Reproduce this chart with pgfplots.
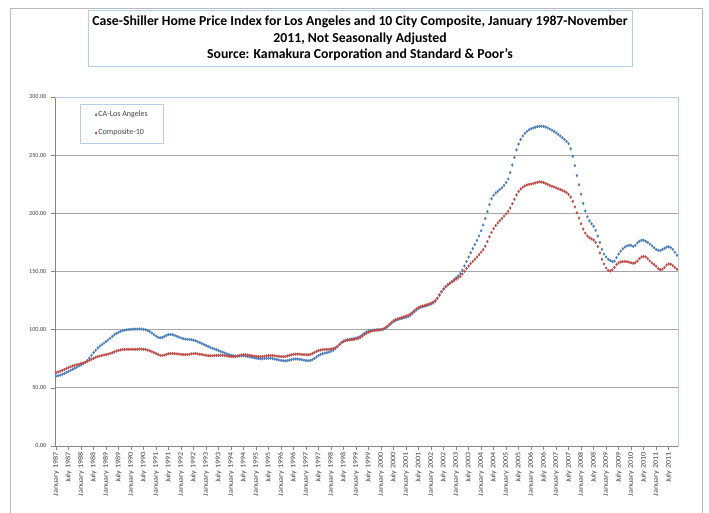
\documentclass[border=0pt]{standalone}
\usepackage{pgfplots}
\pgfplotsset{compat=1.18}
\usepackage{pgfplotstable}
\usepackage{graphicx}
\usepackage{fontspec}
\setmainfont{Carlito}

\definecolor{laBlue}{RGB}{74,126,187}
\definecolor{cRed}{RGB}{190,75,72}
\definecolor{boxcol}{RGB}{185,205,229}
\definecolor{gridgray}{RGB}{165,165,165}
\definecolor{axgray}{RGB}{134,134,134}
\definecolor{txt}{RGB}{64,64,64}

\newcommand{\xl}[1]{\scalebox{1.15}[1]{#1}}

% monthly index, Jan 1987 .. Nov 2011 (one line per year)
\pgfplotstableread[row sep=\\]{
la c10 \\
60.0 63.0 \\ 60.4 63.6 \\ 60.9 64.3 \\ 61.6 65.0 \\ 62.4 65.8 \\ 63.3 66.6 \\ 64.2 67.4 \\ 65.1 68.1 \\ 66.0 68.8 \\ 66.9 69.4 \\ 67.8 69.9 \\ 68.7 70.4 \\
69.6 70.9 \\ 70.6 71.4 \\ 71.8 72.0 \\ 73.5 72.8 \\ 75.6 73.7 \\ 77.9 74.6 \\ 80.2 75.5 \\ 82.3 76.3 \\ 84.2 76.9 \\ 85.8 77.4 \\ 87.2 77.8 \\ 88.5 78.2 \\
89.8 78.6 \\ 91.2 79.0 \\ 92.7 79.5 \\ 94.2 80.2 \\ 95.6 80.9 \\ 96.8 81.6 \\ 97.8 82.2 \\ 98.6 82.6 \\ 99.2 82.9 \\ 99.6 83.0 \\ 99.9 83.1 \\ 100.1 83.1 \\
100.3 83.1 \\ 100.4 83.1 \\ 100.5 83.1 \\ 100.6 83.2 \\ 100.6 83.3 \\ 100.5 83.3 \\ 100.3 83.2 \\ 99.9 82.9 \\ 99.2 82.4 \\ 98.3 81.8 \\ 97.1 81.1 \\ 95.8 80.3 \\
94.5 79.5 \\ 93.5 78.6 \\ 93.0 77.9 \\ 93.3 77.8 \\ 94.2 78.2 \\ 95.2 78.8 \\ 95.8 79.3 \\ 95.9 79.5 \\ 95.6 79.5 \\ 95.0 79.4 \\ 94.3 79.2 \\ 93.6 79.0 \\
92.9 78.8 \\ 92.3 78.6 \\ 91.9 78.5 \\ 91.7 78.6 \\ 91.6 78.9 \\ 91.4 79.2 \\ 91.0 79.4 \\ 90.4 79.4 \\ 89.6 79.2 \\ 88.8 78.9 \\ 88.0 78.6 \\ 87.2 78.3 \\
86.4 78.0 \\ 85.6 77.7 \\ 84.8 77.5 \\ 84.1 77.5 \\ 83.4 77.7 \\ 82.7 77.9 \\ 82.0 78.0 \\ 81.3 78.0 \\ 80.6 77.9 \\ 79.9 77.7 \\ 79.2 77.4 \\ 78.6 77.1 \\
78.1 76.9 \\ 77.7 76.8 \\ 77.4 76.9 \\ 77.3 77.3 \\ 77.4 77.8 \\ 77.5 78.2 \\ 77.5 78.4 \\ 77.3 78.4 \\ 77.0 78.2 \\ 76.6 77.9 \\ 76.2 77.6 \\ 75.8 77.3 \\
75.5 77.1 \\ 75.2 76.9 \\ 75.0 76.8 \\ 75.0 76.9 \\ 75.2 77.2 \\ 75.4 77.5 \\ 75.5 77.7 \\ 75.4 77.8 \\ 75.1 77.7 \\ 74.7 77.5 \\ 74.3 77.3 \\ 73.9 77.1 \\
73.6 76.9 \\ 73.3 76.8 \\ 73.2 76.9 \\ 73.4 77.3 \\ 73.8 77.9 \\ 74.3 78.4 \\ 74.7 78.8 \\ 74.8 79.0 \\ 74.7 79.0 \\ 74.5 78.9 \\ 74.2 78.7 \\ 73.8 78.6 \\
73.5 78.5 \\ 73.3 78.4 \\ 73.5 78.7 \\ 74.2 79.4 \\ 75.3 80.4 \\ 76.6 81.3 \\ 77.8 82.0 \\ 78.7 82.5 \\ 79.4 82.8 \\ 79.9 83.0 \\ 80.3 83.1 \\ 80.7 83.2 \\
81.5 83.4 \\ 82.3 83.7 \\ 83.6 84.4 \\ 85.3 85.6 \\ 87.2 87.2 \\ 88.9 88.7 \\ 90.2 89.9 \\ 91.0 90.6 \\ 91.5 91.0 \\ 91.8 91.2 \\ 92.0 91.4 \\ 92.3 91.6 \\
92.8 92.0 \\ 93.3 92.5 \\ 94.2 93.3 \\ 95.5 94.5 \\ 96.9 95.9 \\ 98.0 97.0 \\ 98.8 97.9 \\ 99.3 98.6 \\ 99.6 99.1 \\ 99.8 99.4 \\ 99.9 99.6 \\ 100.0 99.8 \\
100.0 100.0 \\ 100.3 100.6 \\ 101.1 101.6 \\ 102.4 103.0 \\ 104.0 104.7 \\ 105.6 106.3 \\ 107.0 107.6 \\ 108.0 108.6 \\ 108.7 109.3 \\ 109.2 109.9 \\ 109.7 110.5 \\ 110.2 111.1 \\
110.7 111.7 \\ 111.3 112.4 \\ 112.3 113.4 \\ 113.7 114.8 \\ 115.4 116.4 \\ 117.0 117.9 \\ 118.3 119.1 \\ 119.2 119.9 \\ 119.7 120.4 \\ 120.2 120.9 \\ 120.7 121.5 \\ 121.4 122.1 \\
122.0 122.8 \\ 122.9 123.7 \\ 124.4 125.1 \\ 126.7 127.2 \\ 129.6 129.9 \\ 132.5 132.6 \\ 134.9 135.0 \\ 136.9 136.9 \\ 138.6 138.5 \\ 140.1 139.8 \\ 141.5 141.0 \\ 143.0 142.2 \\
144.6 143.4 \\ 146.2 144.4 \\ 148.3 145.8 \\ 151.2 147.8 \\ 154.8 150.2 \\ 158.6 152.6 \\ 162.4 154.8 \\ 166.1 156.8 \\ 169.7 158.7 \\ 173.2 160.6 \\ 176.8 162.5 \\ 180.6 164.5 \\
185.0 166.6 \\ 190.0 168.8 \\ 195.5 171.8 \\ 201.5 175.7 \\ 207.5 179.8 \\ 212.5 183.6 \\ 215.5 186.8 \\ 217.5 189.5 \\ 219.0 191.7 \\ 220.5 193.7 \\ 222.0 195.6 \\ 224.0 197.6 \\
226.5 199.6 \\ 229.5 201.7 \\ 235.0 204.6 \\ 241.5 208.3 \\ 248.0 212.2 \\ 254.5 215.8 \\ 259.5 218.7 \\ 263.5 220.9 \\ 266.5 222.5 \\ 268.8 223.6 \\ 270.5 224.4 \\ 271.8 224.9 \\
272.7 225.3 \\ 273.4 225.6 \\ 274.0 226.1 \\ 274.5 226.7 \\ 274.8 227.0 \\ 274.9 226.9 \\ 274.7 226.4 \\ 274.2 225.6 \\ 273.4 224.8 \\ 272.5 224.0 \\ 271.5 223.3 \\ 270.4 222.6 \\
269.2 221.9 \\ 267.9 221.2 \\ 266.5 220.5 \\ 265.0 219.8 \\ 263.5 218.9 \\ 261.8 217.8 \\ 259.8 216.2 \\ 255.5 214.0 \\ 249.0 210.3 \\ 241.0 205.5 \\ 232.5 200.5 \\ 224.5 196.0 \\
216.5 191.0 \\ 208.5 186.5 \\ 202.0 183.0 \\ 197.0 180.5 \\ 193.5 179.0 \\ 191.0 178.0 \\ 189.0 177.0 \\ 185.5 175.0 \\ 180.5 171.5 \\ 175.0 166.0 \\ 169.0 160.5 \\ 165.0 156.5 \\
162.5 153.0 \\ 160.5 151.0 \\ 159.5 150.5 \\ 158.5 151.5 \\ 159.0 153.5 \\ 162.0 156.0 \\ 165.0 157.5 \\ 167.5 158.2 \\ 169.5 158.5 \\ 171.0 158.6 \\ 172.0 158.4 \\ 172.5 158.0 \\
172.5 157.5 \\ 171.5 157.0 \\ 172.5 157.5 \\ 174.5 159.0 \\ 176.0 161.0 \\ 177.0 162.5 \\ 176.8 163.0 \\ 176.0 162.5 \\ 175.0 161.0 \\ 173.5 159.0 \\ 172.0 157.3 \\ 170.5 156.0 \\
169.0 154.5 \\ 168.3 152.5 \\ 168.0 151.5 \\ 168.8 152.0 \\ 170.0 153.5 \\ 171.0 155.5 \\ 171.2 156.5 \\ 170.5 156.3 \\ 169.0 155.0 \\ 166.5 153.5 \\ 164.0 152.0 \\
}\hpi

\begin{document}
\begin{tikzpicture}
\path[use as bounding box] (0,0) rectangle (531.75pt,384pt);
% chart area and title frames
\draw[gray!55, line width=0.6pt] (7.5pt,-5pt) -- (7.5pt,378pt) -- (526.5pt,378pt) -- (526.5pt,-5pt);
\draw[boxcol, line width=0.7pt] (66pt,334.5pt) rectangle (474pt,376.5pt);
\node[font=\fontsize{10.3}{12.4}\selectfont\bfseries, align=center] at (270pt,355.3pt)
  {Case-Shiller Home Price Index for Los Angeles and 10 City Composite, January 1987-November\\
   2011, Not Seasonally Adjusted\\
   Source: Kamakura Corporation and Standard \& Poor's};
\begin{axis}[
  at={(41.25pt,49.5pt)}, anchor=south west, scale only axis,
  width=467.25pt, height=261.75pt,
  xmin=-0.5, xmax=298.5, ymin=0, ymax=300,
  axis x line*=bottom, axis y line*=left,
  axis line style={axgray, line width=0.6pt, -},
  clip=false,
  ytick={0,50,...,300},
  ymajorgrids, grid style={gridgray, line width=0.6pt},
  tick align=outside, major tick length=3pt,
  tick style={axgray, line width=0.5pt},
  /pgf/number format/assume math mode=true,
  scaled y ticks=false,
  yticklabel style={font=\fontsize{4.6}{5}\selectfont, text=txt,
    /pgf/number format/fixed, /pgf/number format/fixed zerofill,
    /pgf/number format/precision=2},
  xtick={0,6,...,294},
  xticklabels={\xl{January 1987},\xl{July 1987},\xl{January 1988},\xl{July 1988},
    \xl{January 1989},\xl{July 1989},\xl{January 1990},\xl{July 1990},
    \xl{January 1991},\xl{July 1991},\xl{January 1992},\xl{July 1992},
    \xl{January 1993},\xl{July 1993},\xl{January 1994},\xl{July 1994},
    \xl{January 1995},\xl{July 1995},\xl{January 1996},\xl{July 1996},
    \xl{January 1997},\xl{July 1997},\xl{January 1998},\xl{July 1998},
    \xl{January 1999},\xl{July 1999},\xl{January 2000},\xl{July 2000},
    \xl{January 2001},\xl{July 2001},\xl{January 2002},\xl{July 2002},
    \xl{January 2003},\xl{July 2003},\xl{January 2004},\xl{July 2004},
    \xl{January 2005},\xl{July 2005},\xl{January 2006},\xl{July 2006},
    \xl{January 2007},\xl{July 2007},\xl{January 2008},\xl{July 2008},
    \xl{January 2009},\xl{July 2009},\xl{January 2010},\xl{July 2010},
    \xl{January 2011},\xl{July 2011}},
  xticklabel style={font=\fontsize{5.3}{6}\selectfont, text=txt, rotate=90, anchor=east, inner sep=1.5pt},
  legend style={at={(rel axis cs:0.0401,0.98)}, anchor=north west,
    draw=boxcol, line width=0.6pt, fill=white,
    font=\fontsize{6}{7}\selectfont, text=txt,
    inner xsep=11pt, inner ysep=4pt, row sep=6pt,
    nodes={inner sep=1pt}},
  legend cell align=left,
  legend image code/.code={\draw[#1] plot coordinates {(0pt,0pt)};},
]
\addplot[only marks, mark=diamond*, mark size=1.05pt, color=laBlue, line width=0.2pt]
  table[x expr=\coordindex, y=la] {\hpi};
\addlegendentry{CA-Los Angeles}
\addplot[only marks, mark=diamond*, mark size=1.05pt, color=cRed, line width=0.2pt]
  table[x expr=\coordindex, y=c10] {\hpi};
\addlegendentry{Composite-10}
\draw[boxcol, line width=0.7pt] (rel axis cs:0,1) -- (rel axis cs:1,1) -- (rel axis cs:1,0);
\end{axis}
\end{tikzpicture}
\end{document}
